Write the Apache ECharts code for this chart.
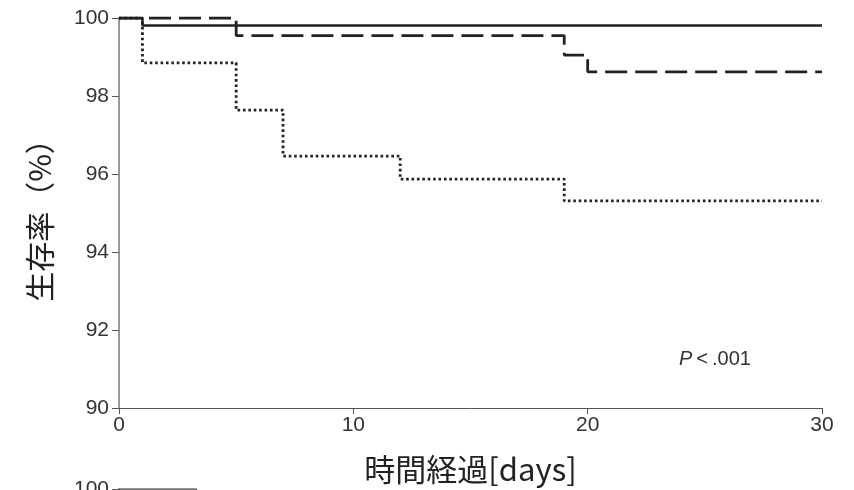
<!DOCTYPE html>
<html><head><meta charset="utf-8">
<script src="https://cdn.jsdelivr.net/npm/echarts@6/dist/echarts.min.js"></script>
<style>html,body{margin:0;padding:0;background:#fff}#c{width:854px;height:490px}</style>
</head><body><div id="c"></div>
<script>
// Kaplan-Meier style step curves: [day, survival %]
const solidCurve  = [[0,100],[1,99.81],[30,99.81]];
const dashedCurve = [[0,100],[5,99.55],[19,99.05],[20,98.62],[30,98.62]];
const dottedCurve = [[0,100],[1,98.85],[5,97.64],[7,96.46],[12,95.87],[19,95.31],[30,95.31]];
// fragment of the next panel visible at the bottom edge
const nextPanelCurve = [[0,100],[3.3,100],[3.3,90]];
const xTicks = [0,10,20,30];
const yTicks = [90,92,94,96,98,100];
const xName = '時間経過[days]';
const yName = '生存率（%）';
const pText = '{i|P}{n|\u2009<\u2009.001}';

const chart = echarts.init(document.getElementById('c'));
const lab = {fontFamily:'Liberation Sans', fontSize:21, color:'#333'};
chart.setOption({
  animation:false,
  grid:[
    {left:119, right:32, top:18, bottom:82},
    {left:119, right:32, top:489, bottom:-300}
  ],
  xAxis:[
    {type:'value', gridIndex:0, min:xTicks[0], max:xTicks[xTicks.length-1], interval:10,
     axisLine:{lineStyle:{color:'#555',width:1}}, axisTick:{length:6,lineStyle:{color:'#555'}},
     axisLabel:Object.assign({margin:7},lab), splitLine:{show:false},
     name:xName, nameLocation:'middle', nameGap:46,
     nameTextStyle:{fontFamily:'Noto Sans CJK JP', fontSize:31, color:'#222'}},
    {type:'value', gridIndex:1, min:0, max:30, show:false}
  ],
  yAxis:[
    {type:'value', gridIndex:0, min:yTicks[0], max:yTicks[yTicks.length-1], interval:2,
     axisLine:{show:true,lineStyle:{color:'#999',width:2}}, axisTick:{show:true,length:7,lineStyle:{color:'#555'}},
     axisLabel:Object.assign({margin:10},lab), splitLine:{show:false},
     name:yName, nameLocation:'middle', nameGap:64, nameRotate:90,
     nameTextStyle:{fontFamily:'Noto Sans CJK JP', fontSize:30, color:'#222'}},
    {type:'value', gridIndex:1, min:0, max:100, interval:100,
     axisLine:{show:true,lineStyle:{color:'#999',width:2}}, axisTick:{show:true,length:7,lineStyle:{color:'#555'}},
     axisLabel:Object.assign({margin:10},lab), splitLine:{show:false}}
  ],
  series:[
    {type:'line', step:'end', data:dottedCurve, symbol:'none', z:3,
     lineStyle:{color:'#222',width:2.8,type:[2.6,2.8]}},
    {type:'line', step:'end', data:dashedCurve, symbol:'none', z:4,
     lineStyle:{color:'#222',width:2.8,type:[22,8]}},
    {type:'line', step:'end', data:solidCurve, symbol:'none', z:5,
     lineStyle:{color:'#222',width:2.5}},
    {type:'line', xAxisIndex:1, yAxisIndex:1, data:nextPanelCurve, symbol:'none',
     lineStyle:{color:'#444',width:1.5}}
  ],
  graphic:[
    {type:'text', left:679, top:349,
     style:{text:pText, rich:{
       i:{fontFamily:'Liberation Sans', fontStyle:'italic', fontSize:20, fill:'#333'},
       n:{fontFamily:'Liberation Sans', fontSize:20, fill:'#333'}}}}
  ]
});
</script></body></html>
